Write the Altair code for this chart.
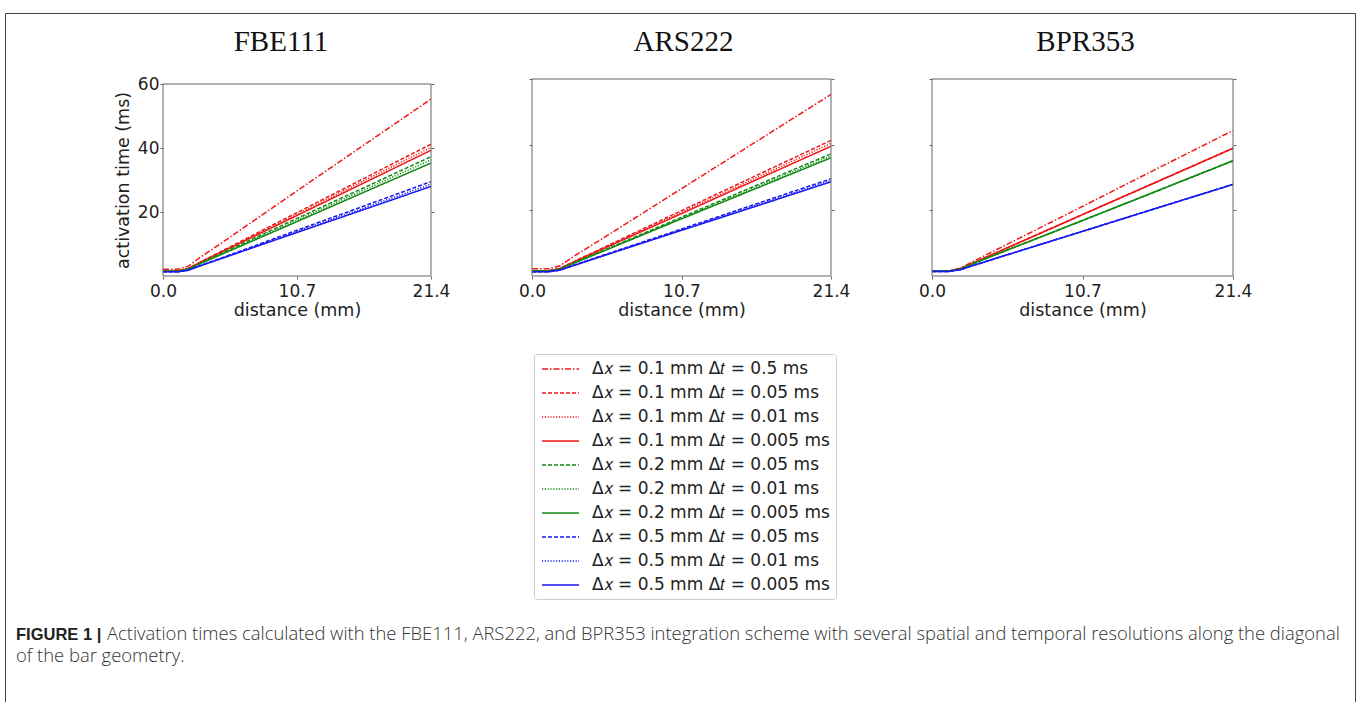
import altair as alt
import pandas as pd

# ---------------- data ----------------
panels = ["FBE111", "ARS222", "BPR353"]
distance = [0.0, 1.2, 2.0, 3.0, 5.0, 10.7, 16.0, 21.4]
series = [
    "Δ𝑥 = 0.1 mm Δ𝑡 = 0.5 ms",
    "Δ𝑥 = 0.1 mm Δ𝑡 = 0.05 ms",
    "Δ𝑥 = 0.1 mm Δ𝑡 = 0.01 ms",
    "Δ𝑥 = 0.1 mm Δ𝑡 = 0.005 ms",
    "Δ𝑥 = 0.2 mm Δ𝑡 = 0.05 ms",
    "Δ𝑥 = 0.2 mm Δ𝑡 = 0.01 ms",
    "Δ𝑥 = 0.2 mm Δ𝑡 = 0.005 ms",
    "Δ𝑥 = 0.5 mm Δ𝑡 = 0.05 ms",
    "Δ𝑥 = 0.5 mm Δ𝑡 = 0.01 ms",
    "Δ𝑥 = 0.5 mm Δ𝑡 = 0.005 ms",
]
colors = ["#f01818", "#f01818", "#f01818", "#f01818",
          "#138a13", "#138a13", "#138a13",
          "#1818f0", "#1818f0", "#1818f0"]
dashes = [[6, 2, 1.5, 2], [4, 2], [1.2, 1.6], [1, 0],
          [4, 2], [1.2, 1.6], [1, 0],
          [4, 2], [1.2, 1.6], [1, 0]]

fbe111 = [
    [2.1, 2.1, 3.0, 5.9, 11.2, 26.6, 40.8, 55.3],
    [1.6, 1.6, 2.3, 4.4, 8.4, 19.8, 30.4, 41.2],
    [1.6, 1.6, 2.3, 4.3, 8.2, 19.3, 29.7, 40.2],
    [1.6, 1.6, 2.3, 4.3, 8.1, 18.9, 29.0, 39.3],
    [1.5, 1.5, 2.1, 4.0, 7.7, 18.0, 27.5, 37.3],
    [1.5, 1.5, 2.1, 4.0, 7.5, 17.5, 26.8, 36.3],
    [1.5, 1.5, 2.1, 3.9, 7.3, 17.0, 26.1, 35.3],
    [1.3, 1.3, 1.8, 3.3, 6.1, 14.3, 21.8, 29.5],
    [1.3, 1.3, 1.8, 3.2, 6.0, 13.9, 21.2, 28.7],
    [1.3, 1.3, 1.8, 3.2, 5.9, 13.6, 20.7, 28.0],
]
ars222 = [
    [2.2, 2.2, 3.1, 6.0, 11.3, 26.6, 40.8, 55.3],
    [1.6, 1.6, 2.3, 4.4, 8.4, 19.9, 30.5, 41.3],
    [1.6, 1.6, 2.3, 4.3, 8.3, 19.4, 29.8, 40.4],
    [1.6, 1.6, 2.3, 4.3, 8.1, 19.0, 29.2, 39.5],
    [1.5, 1.5, 2.1, 4.0, 7.6, 17.9, 27.5, 37.2],
    [1.5, 1.5, 2.1, 4.0, 7.5, 17.6, 27.0, 36.6],
    [1.5, 1.5, 2.1, 3.9, 7.4, 17.4, 26.6, 36.0],
    [1.3, 1.3, 1.8, 3.3, 6.2, 14.3, 21.9, 29.6],
    [1.3, 1.3, 1.8, 3.3, 6.1, 14.1, 21.5, 29.1],
    [1.3, 1.3, 1.8, 3.2, 6.0, 13.9, 21.2, 28.7],
]
bpr353 = [
    [1.6, 1.6, 2.4, 4.6, 8.9, 21.2, 32.7, 44.3],
    [1.5, 1.5, 2.2, 4.1, 7.9, 18.7, 28.7, 38.9],
    [1.5, 1.5, 2.2, 4.1, 7.9, 18.7, 28.7, 38.9],
    [1.5, 1.5, 2.2, 4.1, 7.9, 18.7, 28.7, 38.9],
    [1.5, 1.5, 2.1, 3.9, 7.3, 16.9, 25.9, 35.1],
    [1.5, 1.5, 2.1, 3.9, 7.3, 16.9, 25.9, 35.1],
    [1.5, 1.5, 2.1, 3.9, 7.3, 16.9, 25.9, 35.1],
    [1.4, 1.4, 1.9, 3.3, 6.0, 13.6, 20.7, 27.9],
    [1.4, 1.4, 1.9, 3.3, 6.0, 13.6, 20.7, 27.9],
    [1.4, 1.4, 1.9, 3.3, 6.0, 13.6, 20.7, 27.9],
]
x_ticks = [0.0, 10.7, 21.4]
y_ticks = [20, 40, 60]
caption_label = "FIGURE 1 |"
caption_line1 = ("Activation times calculated with the FBE111, ARS222, and BPR353 integration "
                 "scheme with several spatial and temporal resolutions along the diagonal")
caption_line2 = "of the bar geometry."

panel_values = {"FBE111": fbe111, "ARS222": ars222, "BPR353": bpr353}
rows = []
for p in panels:
    for s, vals in zip(series, panel_values[p]):
        for d, v in zip(distance, vals):
            rows.append({"panel": p, "series": s, "distance": d, "time": v})
df = pd.DataFrame(rows)
one = pd.DataFrame({"k": [1]})

SPINE = "#666666"

legend = alt.Legend(
    orient="none", legendX=371, legendY=275, title=None,
    symbolType="M-2.3125,0H2.3125", symbolSize=256, symbolStrokeWidth=1.5,
    symbolOffset=11.5, labelOffset=22.5,
    labelFont="DejaVu Sans", labelFontSize=17, labelColor="#222222",
    labelLimit=400, rowPadding=7, padding=6,
    strokeColor="#cccccc", fillColor="white", cornerRadius=3,
)


def make_panel(name, width, yrange, first, title_dx, title_dy):
    sub = df[df["panel"] == name]
    xscale = alt.Scale(domain=[0, 21.4], nice=False, zero=False)
    if yrange:
        yscale = alt.Scale(domain=[0, 60], nice=False, zero=False, range=yrange)
    else:
        yscale = alt.Scale(domain=[0, 60], nice=False, zero=False)
    xaxis = alt.Axis(values=x_ticks, format=".1f", title="distance (mm)",
                     labelFlush=False, labelOverlap=False, tickSize=3,
                     labelPadding=4, titlePadding=2, grid=False, domain=False)
    if first:
        yaxis = alt.Axis(values=y_ticks, title="activation time (ms)", tickSize=3,
                         labelPadding=1, titlePadding=5, grid=False, domain=False)
    else:
        yaxis = alt.Axis(values=y_ticks, title=None, labels=False, tickSize=3,
                         grid=False, domain=False)
    raxis = alt.Axis(values=y_ticks, title=None, labels=False, tickSize=3,
                     grid=False, domain=False, orient="right")
    lines = alt.Chart(sub).mark_line(strokeWidth=1.5).encode(
        x=alt.X("distance:Q", scale=xscale, axis=xaxis),
        y=alt.Y("time:Q", scale=yscale, axis=yaxis),
        color=alt.Color("series:N", scale=alt.Scale(domain=series, range=colors), legend=legend),
        strokeDash=alt.StrokeDash("series:N", scale=alt.Scale(domain=series, range=dashes), legend=legend),
    )
    frame = alt.Chart(one).mark_rect(filled=False, color=SPINE, strokeWidth=1).encode(
        x=alt.XDatum(0, type="quantitative", scale=xscale, axis=xaxis),
        x2=alt.X2Datum(21.4),
        y=alt.YDatum(60, type="quantitative", scale=yscale, axis=raxis),
        y2=alt.Y2Datum(0),
    )
    return alt.layer(lines, frame).resolve_axis(y="independent").properties(
        width=width, height=197,
        title=alt.TitleParams(text=name, font="Liberation Serif", fontSize=29,
                              fontWeight="normal", color="#111111", dx=title_dx,
                              dy=title_dy, offset=0, baseline="alphabetic", anchor="middle"),
    )


p1 = make_panel("FBE111", 268, [197, 5], True, -16, 5)
p2 = make_panel("ARS222", 299, None, False, 2, 1)
p3 = make_panel("BPR353", 301, None, False, 3, 1)

# figure frame (left, top, right edges) + caption, placed relative to this cell
BORDER = "#444444"
left_edge = alt.Chart(one).mark_rule(color=BORDER, strokeWidth=1).encode(
    x=alt.value(-1328.5), y=alt.value(-65.5), y2=alt.value(624))
right_edge = alt.Chart(one).mark_rule(color=BORDER, strokeWidth=1).encode(
    x=alt.value(21.5), y=alt.value(-65.5), y2=alt.value(624))
top_edge = alt.Chart(one).mark_rule(color=BORDER, strokeWidth=1).encode(
    x=alt.value(-1328.5), x2=alt.value(21.5), y=alt.value(-65.5))
cap_a = alt.Chart(one).mark_text(
    align="left", baseline="alphabetic", font="Liberation Sans", fontSize=16.5,
    fontWeight="bold", color="#222222", text=caption_label
).encode(x=alt.value(-1318), y=alt.value(561))
cap_b = alt.Chart(one).mark_text(
    align="left", baseline="alphabetic", font="Open Sans", fontSize=18.4,
    fontWeight=300, color="#333333", text=caption_line1
).encode(x=alt.value(-1227), y=alt.value(561))
cap_c = alt.Chart(one).mark_text(
    align="left", baseline="alphabetic", font="Open Sans", fontSize=18.4,
    fontWeight=300, color="#333333", text=caption_line2
).encode(x=alt.value(-1318), y=alt.value(583))
figframe = alt.layer(left_edge, right_edge, top_edge, cap_a, cap_b, cap_c).properties(
    width=1, height=1)

chart = alt.hconcat(p1, p2, p3, figframe, spacing=101, bounds="flush").properties(
    padding={"left": 4, "top": 12, "right": 1, "bottom": 0},
    background="white",
).configure_view(stroke="transparent").configure_axis(
    domainColor=SPINE, tickColor=SPINE, labelColor="#222222", titleColor="#222222",
    labelFont="DejaVu Sans", labelFontSize=17, titleFont="DejaVu Sans",
    titleFontSize=17.5, titleFontWeight="normal",
)

chart.save("out.html", embed_options={"renderer": "svg", "actions": False})
